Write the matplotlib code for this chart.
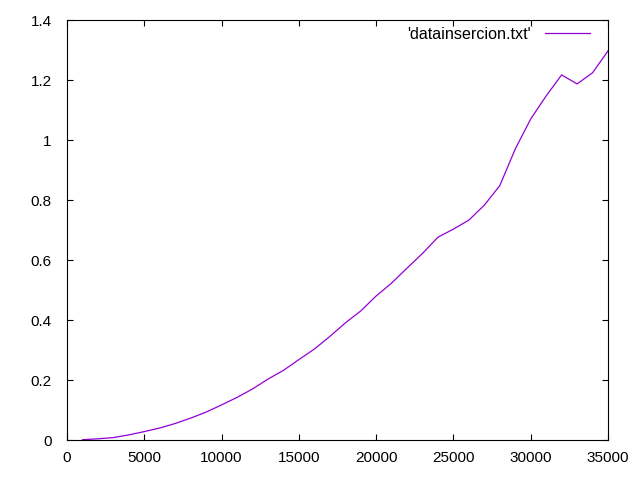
import matplotlib
matplotlib.use("Agg")
import matplotlib.pyplot as plt

# sizes (n) and times from 'datainsercion.txt'
sizes = [1000, 2000, 3000, 4000, 5000, 6000, 7000, 8000, 9000, 10000,
         11000, 12000, 13000, 14000, 15000, 16000, 17000, 18000, 19000, 20000,
         21000, 22000, 23000, 24000, 25000, 26000, 27000, 28000, 29000, 30000,
         31000, 32000, 33000, 34000, 35000]
times = [0.001, 0.004, 0.008, 0.017, 0.028, 0.040, 0.055, 0.073, 0.093, 0.117,
         0.142, 0.170, 0.203, 0.232, 0.268, 0.303, 0.345, 0.390, 0.430, 0.480,
         0.523, 0.573, 0.622, 0.676, 0.703, 0.733, 0.783, 0.848, 0.970, 1.070,
         1.147, 1.217, 1.187, 1.224, 1.297]

xticks = [0, 5000, 10000, 15000, 20000, 25000, 30000, 35000]
yticks = [0, 0.2, 0.4, 0.6, 0.8, 1.0, 1.2, 1.4]
ytick_labels = ["0", "0.2", "0.4", "0.6", "0.8", "1", "1.2", "1.4"]

plt.rcParams['font.family'] = ['Liberation Sans', 'DejaVu Sans']

fig = plt.figure(figsize=(6.4, 4.8), dpi=100)
ax = fig.add_axes([67 / 640, 40 / 480, 541 / 640, 420 / 480])

ax.plot(sizes, times, color='#9400d3', linewidth=0.9, label="'datainsercion.txt'")

ax.set_xlim(0, 35000)
ax.set_ylim(0, 1.4)
ax.set_xticks(xticks)
ax.set_xticklabels([str(t) for t in xticks])
ax.set_yticks(yticks)
ax.set_yticklabels(ytick_labels)

# gnuplot look: inward ticks mirrored on every side
ax.tick_params(direction='in', length=4.5, width=0.8, labelsize=11,
               top=True, right=True, colors='black')
ax.tick_params(axis='x', pad=8)
ax.tick_params(axis='y', pad=11)
for s in ax.spines.values():
    s.set_linewidth(0.8)

ax.legend(loc='upper right', bbox_to_anchor=(590 / 640, 1 - 27 / 480),
          bbox_transform=fig.transFigure, frameon=False, markerfirst=False,
          fontsize=11.6, handlelength=2.8, handletextpad=0.85,
          borderpad=0, borderaxespad=0)

fig.savefig("out.png", dpi=100)
